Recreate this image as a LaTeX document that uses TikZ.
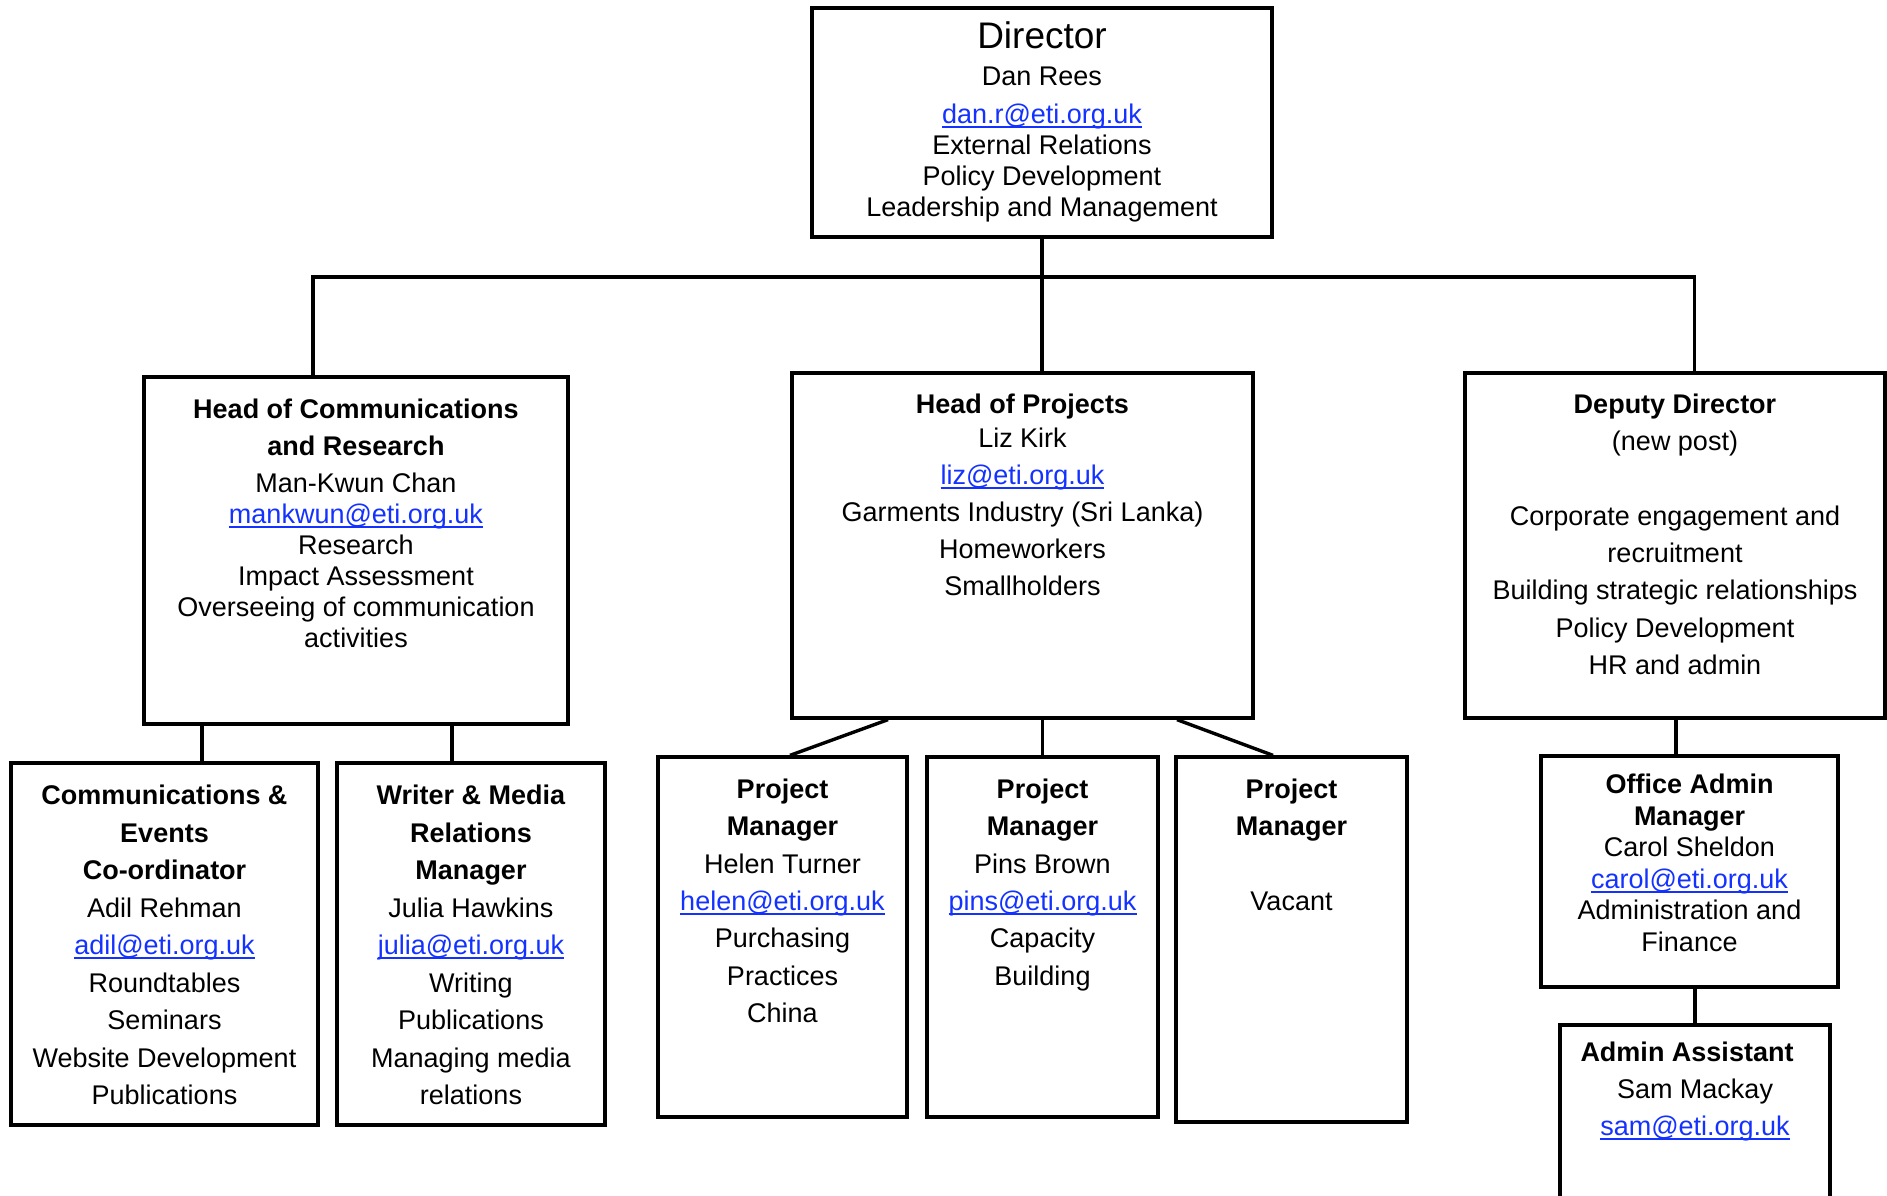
\documentclass[tikz,border=0pt]{standalone}
\usepackage{fontspec}
\setmainfont{Liberation Sans}
\usetikzlibrary{positioning}
\definecolor{linkblue}{RGB}{20,50,255}
\newcommand{\mail}[1]{\textcolor{linkblue}{\setbox0\hbox{#1}\rlap{\rule[-4.5pt]{\wd0}{2pt}}\box0}}
\newcommand{\up}{\rule{0pt}{21pt}}

\begin{document}
\begin{tikzpicture}[
            x = 1pt, y = -1pt, % one unit per pixel, downwards
            post/.style = {draw, line width = 3.3pt, inner sep = 0pt},
            duties/.style = {align = center, inner sep = 0pt},
            link/.style = {line width = 3.4pt}
            ]

        \useasboundingbox (0,0) rectangle (1887,1196);

	% director
        \node[post, minimum width=460pt, minimum height=229pt] (dir) at (1042,122.5) {};
        \node[duties, font=\fontsize{27}{31}\selectfont, below=14pt of dir.north] (dir-t)
            {{\fontsize{37}{37}\selectfont\rule{0pt}{28pt}Director}\\[6pt] Dan Rees\\[7pt]
             \mail{dan.r@eti.org.uk}\\ External Relations\\ Policy Development\\
             Leadership and Management};

	% heads
        \node[post, minimum width=424pt, minimum height=347pt] (hcr) at (356,550.5) {};
        \node[duties, font=\fontsize{27}{31}\selectfont, below=22pt of hcr.north] (hcr-t)
            {\textbf{\up Head of Communications}\\[6pt] \textbf{and Research}\\[6pt]
             Man-Kwun Chan\\ \mail{mankwun@eti.org.uk}\\ Research\\ Impact Assessment\\
             Overseeing of communication\\ activities};

        \node[post, minimum width=461pt, minimum height=345pt] (hop) at (1022.5,545.5) {};
        \node[duties, font=\fontsize{27}{37}\selectfont, below=21pt of hop.north] (hop-t)
            {\textbf{\up Head of Projects}\\[-3pt] Liz Kirk\\ \mail{liz@eti.org.uk}\\
             Garments Industry (Sri Lanka)\\ Homeworkers\\ Smallholders};

        \node[post, minimum width=420pt, minimum height=345pt] (dd) at (1675,545.5) {};
        \node[duties, font=\fontsize{27}{37.3}\selectfont, below=21pt of dd.north] (dd-t)
            {\textbf{\up Deputy Director}\\ (new post)\\[37pt] Corporate engagement and\\
             recruitment\\ Building strategic relationships\\ Policy Development\\ HR and admin};

	% communications team
        \node[post, minimum width=307pt, minimum height=362pt] (ce) at (164.5,944) {};
        \node[duties, font=\fontsize{27}{37.5}\selectfont, below=22pt of ce.north] (ce-t)
            {\textbf{\up Communications \&}\\ \textbf{Events}\\ \textbf{Co-ordinator}\\
             Adil Rehman\\ \mail{adil@eti.org.uk}\\ Roundtables\\ Seminars\\
             Website Development\\ Publications};

        \node[post, minimum width=268pt, minimum height=362pt] (wm) at (471,944) {};
        \node[duties, font=\fontsize{27}{37.5}\selectfont, below=22pt of wm.north] (wm-t)
            {\textbf{\up Writer \& Media}\\ \textbf{Relations}\\ \textbf{Manager}\\
             Julia Hawkins\\ \mail{julia@eti.org.uk}\\ Writing\\ Publications\\
             Managing media\\ relations};

	% project managers
        \node[post, minimum width=249pt, minimum height=360pt] (pm1) at (782.5,937) {};
        \node[duties, font=\fontsize{27}{37.3}\selectfont, below=22pt of pm1.north] (pm1-t)
            {\textbf{\up Project}\\ \textbf{Manager}\\ Helen Turner\\ \mail{helen@eti.org.uk}\\
             Purchasing\\ Practices\\ China};

        \node[post, minimum width=231pt, minimum height=360pt] (pm2) at (1042.5,937) {};
        \node[duties, font=\fontsize{27}{37.3}\selectfont, below=22pt of pm2.north] (pm2-t)
            {\textbf{\up Project}\\ \textbf{Manager}\\ Pins Brown\\ \mail{pins@eti.org.uk}\\
             Capacity\\ Building};

        \node[post, minimum width=231pt, minimum height=365pt] (pm3) at (1291.5,939.5) {};
        \node[duties, font=\fontsize{27}{37.3}\selectfont, below=22pt of pm3.north] (pm3-t)
            {\textbf{\up Project}\\ \textbf{Manager}\\[37.3pt] Vacant};

	% office
        \node[post, minimum width=297pt, minimum height=231pt] (oa) at (1689.5,871.5) {};
        \node[duties, font=\fontsize{27}{31.6}\selectfont, below=18pt of oa.north] (oa-t)
            {\textbf{\up Office Admin}\\ \textbf{Manager}\\ Carol Sheldon\\
             \mail{carol@eti.org.uk}\\ Administration and\\ Finance};

        \node[post, minimum width=270pt, minimum height=190pt] (aa) at (1695,1120) {};
        \node[duties, font=\fontsize{27}{37}\selectfont, below=17pt of aa.north] (aa-t)
            {\textbf{\up Admin Assistant}\hspace*{16pt}\\ Sam Mackay\\ \mail{sam@eti.org.uk}};

	% connectors
        \coordinate (bar) at (1042,277);
        \coordinate (hcr-in) at ([xshift=-43pt]hcr.north);
        \coordinate (dd-in) at ([xshift=19.5pt]dd.north);
        \coordinate (ce-in) at ([xshift=37.5pt]ce.north);
        \coordinate (wm-in) at ([xshift=-19pt]wm.north);
        \coordinate (oa-in) at ([xshift=-13.5pt]oa.north);

        \draw[link] (dir.south) -- (dir.south |- hop.north);
        \draw[link] (hcr-in) |- (bar) -| (dd-in);

        \draw[link] (ce-in) -- (ce-in |- hcr.south);
        \draw[link] (wm-in) -- (wm-in |- hcr.south);

        \draw[link] ([xshift=-134.5pt]hop.south) -- ([xshift=7.5pt]pm1.north);
        \draw[link] (pm2.north) -- (pm2.north |- hop.south);
        \draw[link] ([xshift=154.5pt]hop.south) -- ([xshift=-18.5pt]pm3.north);

        \draw[link] (oa-in) -- (oa-in |- dd.south);
        \draw[link] (aa.north) -- (aa.north |- oa.south);

\end{tikzpicture}
\end{document}
